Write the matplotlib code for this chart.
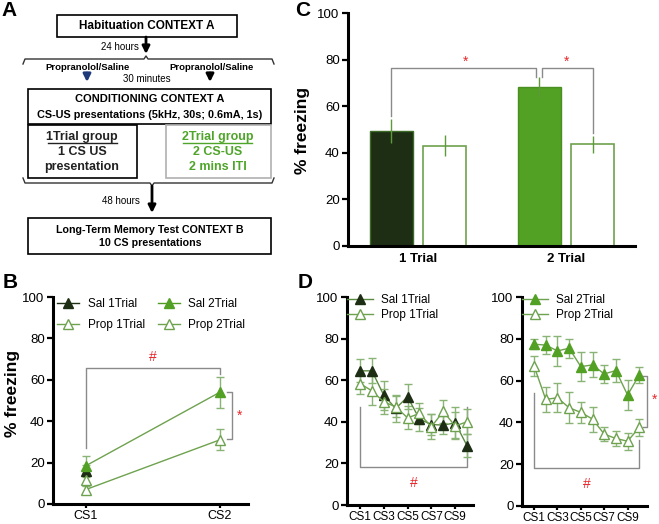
import matplotlib
matplotlib.use("Agg")
import matplotlib.pyplot as plt
from matplotlib.patches import Rectangle
from matplotlib.lines import Line2D

plt.rcParams['font.family'] = ['Liberation Sans', 'DejaVu Sans']
NARROW = ['Liberation Sans Narrow', 'Liberation Sans', 'DejaVu Sans']

W, H = 659, 524

# panel B data (acquisition, CS1-CS2)
b_labels = ['CS1', 'CS2']
sal1_b = [16.0]
sal1_b_err = [3.0]
prop1_b = [11.5]
prop1_b_err = [3.0]
sal2_b = [18.5, 54.0]
sal2_b_err = [4.5, 7.5]
prop2_b = [7.0, 31.0]
prop2_b_err = [2.0, 5.0]

# panel C data (bars)
c_groups = ['1 Trial', '2 Trial']
sal_c = [49.5, 68.1]
sal_c_err = [5.2, 4.3]
prop_c = [43.1, 43.6]
prop_c_err = [4.5, 3.7]

# panel D data (memory test, CS1-CS10)
d_ticks = ['CS1', 'CS3', 'CS5', 'CS7', 'CS9']
sal1_d = [64.5, 64.5, 52.8, 46.4, 52.0, 41.3, 38.7, 38.4, 39.5, 28.5]
sal1_d_err = [5.5, 6.0, 7.0, 6.5, 6.0, 5.5, 5.0, 4.5, 7.5, 5.5]
prop1_d = [58.4, 54.9, 49.6, 47.2, 41.9, 44.0, 37.6, 45.0, 38.0, 40.0]
prop1_d_err = [5.0, 7.0, 6.0, 5.0, 5.5, 5.0, 6.0, 5.5, 6.5, 6.0]
sal2_d = [77.4, 77.0, 74.2, 75.5, 66.7, 67.5, 63.2, 64.8, 53.1, 62.7]
sal2_d_err = [2.5, 4.5, 7.0, 4.5, 7.0, 6.0, 4.5, 5.5, 7.0, 4.0]
prop2_d = [67.0, 51.0, 51.8, 47.0, 44.8, 41.6, 34.4, 32.3, 31.0, 37.6]
prop2_d_err = [5.0, 6.0, 7.0, 7.5, 5.0, 6.0, 3.5, 3.5, 4.0, 4.0]

dark = '#1d2e15'
green = '#52a024'
light = '#6ea24e'
errc = '#8ab476'
gray = '#8a8a8a'
red = '#e8262a'


def ax_px(left, top, right, bottom):
    return fig.add_axes([left / W, 1 - bottom / H, (right - left) / W, (bottom - top) / H])


def style(ax):
    for s in ['top', 'right']:
        ax.spines[s].set_visible(False)
    for s in ['left', 'bottom']:
        ax.spines[s].set_linewidth(2.2)
    ax.tick_params(width=1.6, length=4, labelsize=9.5, pad=2)
    ax.tick_params(axis='x', length=3, pad=1)
    ax.set_ylim(0, 100)
    ax.set_yticks([0, 20, 40, 60, 80, 100])


def series(ax, x, y, err, fc, mec, lc):
    ax.errorbar(x, y, yerr=err, fmt='^', ms=7.5, mfc=fc, mec=mec, mew=1,
                color=lc, ecolor=errc, elinewidth=1, capsize=3, capthick=1,
                ls='-', lw=1, zorder=3)


def handle(fc, mec, lc):
    return Line2D([], [], marker='^', ms=7, mfc=fc, mec=mec, mew=1, color=lc, lw=1)


def narrow_xticks(ax, labels, size):
    ax.set_xticklabels(labels, fontsize=size, family=NARROW)


fig = plt.figure(figsize=(W / 100, H / 100), dpi=100)

# ---------------- panel A: flow chart ----------------
axA = fig.add_axes([0, 0, 1, 1], zorder=-1)
axA.set_xlim(0, W)
axA.set_ylim(H, 0)
axA.axis('off')


def box(x0, y0, x1, y1, ec='k'):
    axA.add_patch(Rectangle((x0, y0), x1 - x0, y1 - y0, fill=False, ec=ec, lw=1.2))


def arrow(x, y0, y1, c='k'):
    axA.annotate('', xy=(x, y1), xytext=(x, y0),
                 arrowprops=dict(arrowstyle='-|>', lw=2, color=c, mutation_scale=11,
                                 shrinkA=0, shrinkB=0))


box(57, 15, 237, 37)
axA.text(147, 26, 'Habituation CONTEXT A', ha='center', va='center', fontsize=8.5, fontweight='bold')
arrow(146, 37, 54)
axA.text(139, 47, '24 hours', ha='right', va='center', fontsize=7)
axA.plot([23, 25, 144, 146, 148, 272, 274], [64, 59, 59, 56, 59, 59, 64], color='#333333', lw=1)
axA.text(87, 68, 'Propranolol/Saline', ha='center', va='center', fontsize=6.8, fontweight='bold')
axA.text(211, 68, 'Propranolol/Saline', ha='center', va='center', fontsize=6.8, fontweight='bold')
arrow(87, 73, 82, c='#1f3a7a')
arrow(210, 73, 82)
axA.text(147, 79.5, '30 minutes', ha='center', va='center', fontsize=7)

box(28, 89, 271, 124)
axA.text(150, 99.5, 'CONDITIONING CONTEXT A', ha='center', va='center', fontsize=8, fontweight='bold')
axA.text(150, 115, 'CS-US presentations (5kHz, 30s; 0.6mA, 1s)', ha='center', va='center',
         fontsize=7.8, fontweight='bold')

box(28, 125, 137, 178)
axA.text(82, 137, '1Trial group', ha='center', va='center', fontsize=9, fontweight='bold', color='#222222')
axA.plot([48, 117], [143, 143], color='#222222', lw=1)
axA.text(82, 152, '1 CS US', ha='center', va='center', fontsize=9, fontweight='bold', color='#222222')
axA.text(82, 167, 'presentation', ha='center', va='center', fontsize=9, fontweight='bold', color='#222222')

box(166, 125, 271, 178, ec='#b0b0b0')
g2 = '#4fa52a'
axA.text(218, 137, '2Trial group', ha='center', va='center', fontsize=9, fontweight='bold', color=g2)
axA.plot([183, 252], [143, 143], color=g2, lw=1)
axA.text(218, 152, '2 CS-US', ha='center', va='center', fontsize=9, fontweight='bold', color=g2)
axA.text(218, 167, '2 mins ITI', ha='center', va='center', fontsize=9, fontweight='bold', color=g2)

axA.plot([23, 25, 150, 152, 154, 272, 274], [178, 183, 183, 186, 183, 183, 178], color='#333333', lw=1)
arrow(152, 186, 213)
axA.text(140, 201, '48 hours', ha='right', va='center', fontsize=7)

box(28, 218, 271, 254)
axA.text(150, 230, 'Long-Term Memory Test CONTEXT B', ha='center', va='center', fontsize=7.7, fontweight='bold')
axA.text(150, 243, '10 CS presentations', ha='center', va='center', fontsize=7.7, fontweight='bold')

for lab, x, y in [('A', 9, 11), ('B', 10, 283), ('C', 303, 11), ('D', 305, 283)]:
    axA.text(x, y, lab, ha='center', va='center', fontsize=15, fontweight='bold')

# ---------------- panel C: bars ----------------
axC = ax_px(348, 13, 635, 246)
style(axC)
bw = 0.29
off = 0.18
gx = [0, 1]
axC.bar([gx[0] - off], [sal_c[0]], bw, color=dark, ec='#3b6b25', lw=1, zorder=2)
axC.bar([gx[1] - off], [sal_c[1]], bw, color=green, ec='#4a8f22', lw=1, zorder=2)
axC.bar([g + off for g in gx], prop_c, bw, color='white', ec=light, lw=1.2, zorder=2)
axC.errorbar([g - off for g in gx], sal_c, yerr=sal_c_err, fmt='none', ecolor='#5d9a3a', elinewidth=1, zorder=3)
axC.errorbar([g + off for g in gx], prop_c, yerr=prop_c_err, fmt='none', ecolor='#5d9a3a', elinewidth=1, zorder=3)
axC.set_xlim(-0.473, 1.466)
axC.set_xticks(gx)
axC.set_xticklabels(c_groups, fontweight='bold', fontsize=9.5)
axC.tick_params(axis='x', length=0, pad=5)
x1, x3 = gx[0] - off, gx[1] - off
x4 = gx[1] + off
axC.plot([x1, x1, x3 - 0.02, x3 - 0.02], [56, 76.4, 76.4, 72.5], color=gray, lw=1)
axC.plot([x3 + 0.02, x3 + 0.02, x4, x4], [72.5, 76.4, 76.4, 48.5], color=gray, lw=1)
axC.text((x1 + x3) / 2, 79, '*', color=red, ha='center', va='center', fontsize=10)
axC.text((x3 + x4) / 2, 79, '*', color=red, ha='center', va='center', fontsize=10)
fig.text(302 / W, 1 - 130 / H, '% freezing', rotation=90, ha='center', va='center',
         fontsize=12.5, fontweight='bold')

# ---------------- panel B ----------------
axB = ax_px(53, 297, 248, 504)
style(axB)
series(axB, [1], sal1_b, sal1_b_err, dark, dark, dark)
series(axB, [1, 2], sal2_b, sal2_b_err, green, green, light)
series(axB, [1], prop1_b, prop1_b_err, 'white', light, light)
series(axB, [1, 2], prop2_b, prop2_b_err, 'white', light, light)
axB.set_xlim(0.754, 2.21)
axB.set_xticks([1, 2])
narrow_xticks(axB, b_labels, 9)
axB.plot([1, 1, 2, 2], [27, 65.8, 65.8, 63], color=gray, lw=1)
axB.text(1.5, 71, '#', color=red, ha='center', va='center', fontsize=10)
axB.plot([2.05, 2.09, 2.09, 2.05], [54, 54, 31.5, 31.5], color=gray, lw=1)
axB.text(2.145, 42.5, '*', color=red, ha='center', va='center', fontsize=10)
hb = [handle(dark, dark, dark), handle('white', light, light),
      handle(green, green, '#4f9a23'), handle('white', light, light)]
axB.legend(hb, ['Sal 1Trial', 'Prop 1Trial', 'Sal 2Trial', 'Prop 2Trial'], ncol=2,
           loc='upper left', bbox_to_anchor=(0.02, 0.995), frameon=False,
           prop=dict(family=NARROW, size=8.5), borderpad=0, borderaxespad=0,
           handlelength=1.9, handletextpad=0.7, columnspacing=1.1, labelspacing=0.75)
fig.text(13 / W, 1 - 393 / H, '% freezing', rotation=90, ha='center', va='center',
         fontsize=12.5, fontweight='bold')

# ---------------- panel D ----------------
xs = list(range(1, 11))
axD1 = ax_px(347, 297, 473, 505)
style(axD1)
series(axD1, xs, sal1_d, sal1_d_err, dark, dark, '#5a8a40')
series(axD1, xs, prop1_d, prop1_d_err, 'white', light, light)
axD1.set_xlim(-0.09, 10.5)
axD1.set_xticks([1, 3, 5, 7, 9])
narrow_xticks(axD1, d_ticks, 8.5)
axD1.plot([1, 1, 10, 10], [47, 18.4, 18.4, 47], color=gray, lw=1)
axD1.text(5.5, 10.4, '#', color=red, ha='center', va='center', fontsize=10)
axD1.legend([handle(dark, dark, '#5a8a40'), handle('white', light, light)],
            ['Sal 1Trial', 'Prop 1Trial'], loc='upper left', bbox_to_anchor=(0.0, 1.015),
            frameon=False, prop=dict(family=NARROW, size=8.5), borderpad=0, borderaxespad=0,
            handlelength=2.2, handletextpad=0.7, labelspacing=0.25)

axD2 = ax_px(522, 297, 647, 506)
style(axD2)
series(axD2, xs, sal2_d, sal2_d_err, green, green, light)
series(axD2, xs, prop2_d, prop2_d_err, 'white', light, light)
axD2.set_xlim(-0.03, 10.66)
axD2.set_xticks([1, 3, 5, 7, 9])
narrow_xticks(axD2, d_ticks, 8.5)
axD2.plot([1, 1, 10, 10], [54, 18.4, 18.4, 31.5], color=gray, lw=1)
axD2.text(5.5, 10.7, '#', color=red, ha='center', va='center', fontsize=10)
axD2.plot([10.3, 10.7, 10.7, 10.3], [62, 62, 38, 38], color=gray, lw=1, clip_on=False)
axD2.text(11.3, 50.7, '*', color=red, ha='center', va='center', fontsize=10, clip_on=False)
axD2.legend([handle(green, green, light), handle('white', light, light)],
            ['Sal 2Trial', 'Prop 2Trial'], loc='upper left', bbox_to_anchor=(0.0, 1.015),
            frameon=False, prop=dict(family=NARROW, size=8.5), borderpad=0, borderaxespad=0,
            handlelength=2.2, handletextpad=0.7, labelspacing=0.25)

fig.savefig('out.png', dpi=100)
